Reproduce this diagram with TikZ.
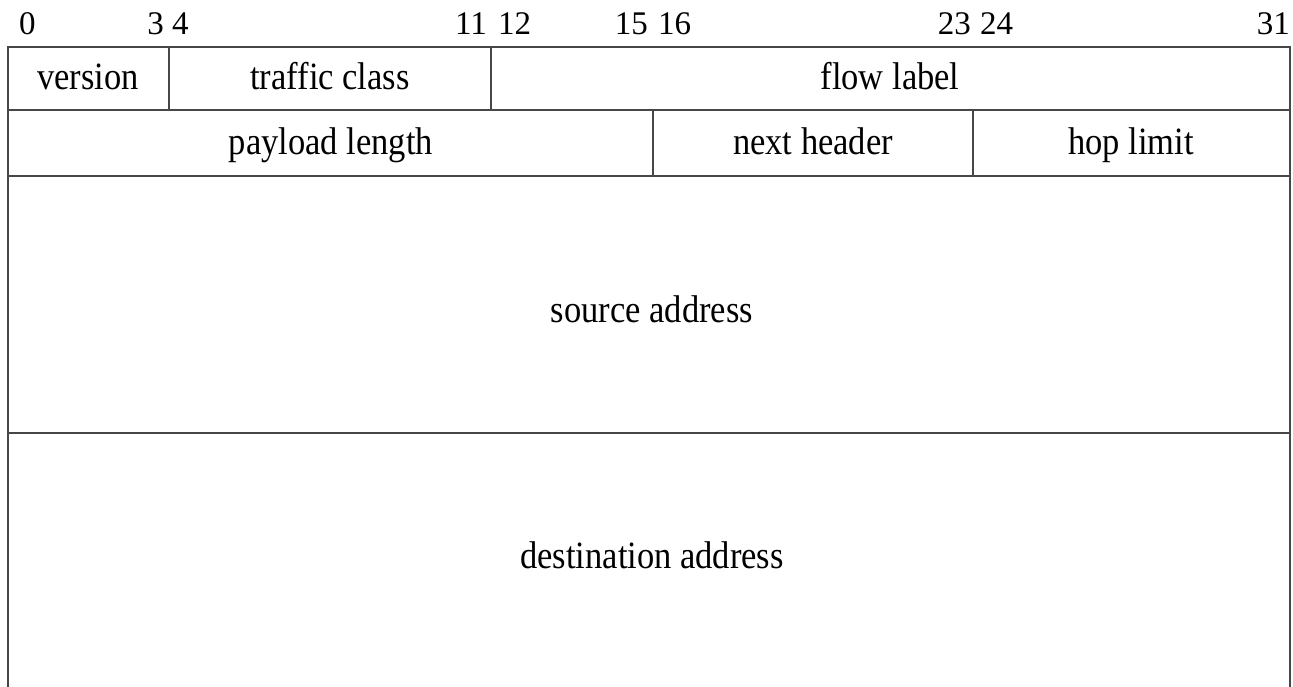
\documentclass[tikz,border=0pt]{standalone}
\usepackage{graphicx}
\usepackage{fontspec}
\setmainfont{Liberation Serif}
\newcommand{\tallfield}[1]{\scalebox{1}[1.12]{#1}}
\begin{document}
\begin{tikzpicture}[x=1pt,y=-1pt,
  grid/.style={draw=black!72,line width=1.7pt},
  field/.style={font=\fontsize{34.5}{40}\selectfont,inner sep=0pt,anchor=base},
  bitnum/.style={font=\fontsize{33}{38}\selectfont,inner sep=0pt}]
\useasboundingbox (0,0) rectangle (1293,687);
% frame and rows
\draw[grid] (8,687) -- (8,47) -- (1290,47) -- (1290,687);
\draw[grid] (8,110) -- (1290,110);
\draw[grid] (8,176) -- (1290,176);
\draw[grid] (8,433) -- (1290,433);
% vertical separators
\draw[grid] (169,47) -- (169,110);
\draw[grid] (491,47) -- (491,110);
\draw[grid] (653,110) -- (653,176);
\draw[grid] (973,110) -- (973,176);
% bit numbers
\node[bitnum,anchor=base west] (b0) at (19,35) {0};
\node[bitnum,anchor=base east] (b3) at (164,35) {3};
\node[bitnum,anchor=base west] (b4) at (172,35) {4};
\node[bitnum,anchor=base east] (b11) at (487,35) {11};
\node[bitnum,anchor=base west] (b12) at (498,35) {12};
\node[bitnum,anchor=base east] (b15) at (648,35) {15};
\node[bitnum,anchor=base west] (b16) at (658,35) {16};
\node[bitnum,anchor=base east] (b23) at (971,35) {23};
\node[bitnum,anchor=base west] (b24) at (980,35) {24};
\node[bitnum,anchor=base east] (b31) at (1290,35) {31};
% fields
\node[field] (version) at (88,90) {\tallfield{version}};
\node[field] (traffic) at (330,90) {\tallfield{traffic class}};
\node[field] (flow) at (890,90) {\tallfield{flow label}};
\node[field] (payload) at (331,155) {\tallfield{payload length}};
\node[field] (next) at (813,155) {\tallfield{next header}};
\node[field] (hop) at (1131,155) {\tallfield{hop limit}};
\node[field] (src) at (652,322) {\tallfield{source address}};
\node[field] (dst) at (652,568) {\tallfield{destination address}};
\end{tikzpicture}
\end{document}
